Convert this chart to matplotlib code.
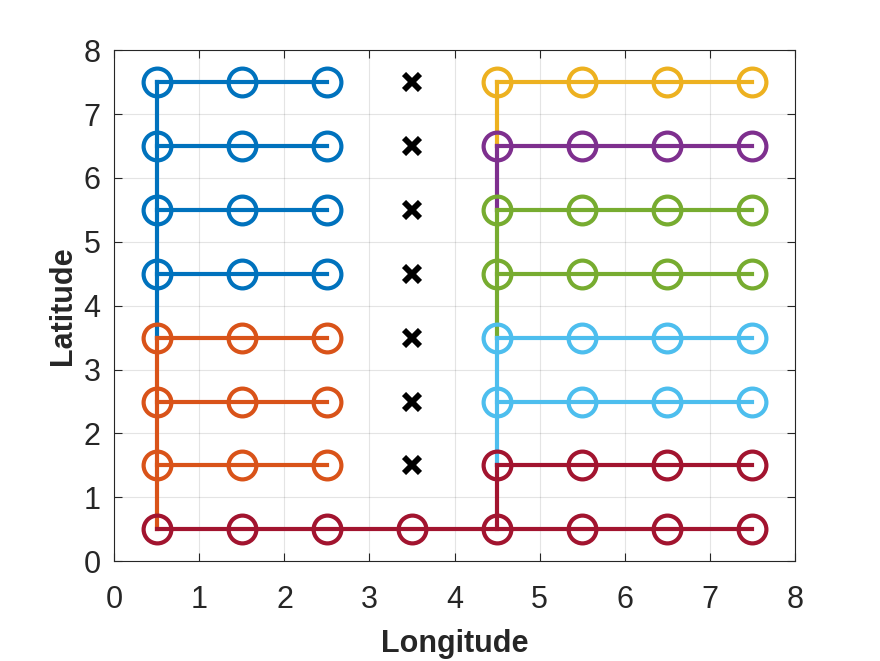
import numpy as np
import matplotlib.pyplot as plt

plt.rcParams['font.family'] = ['Liberation Sans', 'DejaVu Sans']

# series in MATLAB default colour order
colors = ['#0072BD', '#D95319', '#EDB120', '#7E2F8E', '#77AC30', '#4DBEEE', '#A2142F']

# each series: row latitudes, longitudes of nodes in those rows, vertical trunk
rows = [[7.5, 6.5, 5.5, 4.5], [3.5, 2.5, 1.5], [7.5], [6.5], [5.5, 4.5], [3.5, 2.5], [1.5]]
row_x = [[0.5, 1.5, 2.5], [0.5, 1.5, 2.5], [4.5, 5.5, 6.5, 7.5], [4.5, 5.5, 6.5, 7.5],
         [4.5, 5.5, 6.5, 7.5], [4.5, 5.5, 6.5, 7.5], [4.5, 5.5, 6.5, 7.5]]
trunk_x = [0.5, 0.5, 4.5, 4.5, 4.5, 4.5, 4.5]
trunk_y = [(7.5, 3.5), (3.5, 0.5), (7.5, 6.5), (6.5, 5.5), (5.5, 3.5), (3.5, 1.5), (1.5, 0.5)]

# bottom row belongs to the last series
base_y = 0.5
base_x = [0.5, 1.5, 2.5, 3.5, 4.5, 5.5, 6.5, 7.5]

# blocked cells
blocked_x = [3.5] * 7
blocked_y = [1.5, 2.5, 3.5, 4.5, 5.5, 6.5, 7.5]

fig = plt.figure(figsize=(8.8, 6.61), dpi=100)
ax = fig.add_axes([0.130, 0.151, 0.773, 0.773])

lw = 3.0
ms = 20
for i, c in enumerate(colors):
    ax.plot([trunk_x[i], trunk_x[i]], trunk_y[i], color=c, lw=lw)
    for y in rows[i]:
        xs = row_x[i]
        ax.plot(xs, [y] * len(xs), color=c, lw=lw, marker='o', ms=ms,
                mfc='none', mew=lw)
    if i == len(colors) - 1:
        ax.plot(base_x, [base_y] * len(base_x), color=c, lw=lw, marker='o',
                ms=ms, mfc='none', mew=lw)

ax.plot(blocked_x, blocked_y, ls='none', marker='x', color='k', ms=12, mew=4.2)

ax.set_xlim(0, 8)
ax.set_ylim(0, 8)
ax.set_xticks(range(9))
ax.set_yticks(range(9))
ax.grid(True, color='#262626', alpha=0.12, lw=0.8)
ax.set_axisbelow(True)
ax.tick_params(direction='in', length=6, width=0.8, colors='#262626',
               labelsize=22, top=True, right=True)
ax.tick_params(axis='x', pad=17)
ax.tick_params(axis='y', pad=10)
for s in ax.spines.values():
    s.set_color('#262626')
    s.set_linewidth(0.8)
ax.set_xlabel('Longitude', fontsize=22, fontweight='bold', color='#262626', labelpad=10)
ax.set_ylabel('Latitude', fontsize=22, fontweight='bold', color='#262626', labelpad=4)

fig.savefig('out.png', dpi=100)
